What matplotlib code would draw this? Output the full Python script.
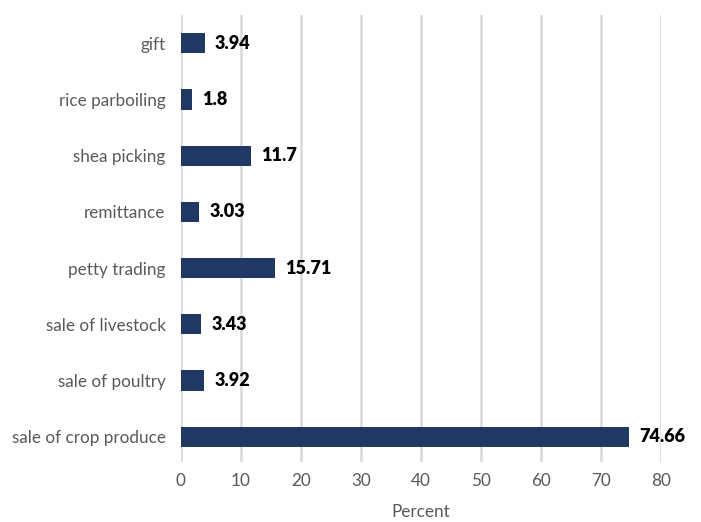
import matplotlib
matplotlib.use("Agg")
import matplotlib.pyplot as plt

categories = ["sale of crop produce", "sale of poultry", "sale of livestock", "petty trading",
              "remittance", "shea picking", "rice parboiling", "gift"]
values = [74.66, 3.92, 3.43, 15.71, 3.03, 11.7, 1.8, 3.94]
labels = ["74.66", "3.92", "3.43", "15.71", "3.03", "11.7", "1.8", "3.94"]
xticks = [0, 10, 20, 30, 40, 50, 60, 70, 80]

plt.rcParams['font.family'] = ['Lato', 'DejaVu Sans']

fig = plt.figure(figsize=(7.01, 5.22), dpi=100)
ax = fig.add_axes([0.258, 0.115, 0.685, 0.856])

y = list(range(len(categories)))
ax.barh(y, values, height=0.36, color="#1F3864", zorder=3)
for yi, v, lab in zip(y, values, labels):
    ax.text(v + 1.7, yi, lab, va="center", ha="left", fontsize=13,
            fontweight="heavy", color="black", clip_on=False)

ax.set_xlim(0, 80)
ax.set_ylim(-0.45, 7.5)
ax.set_xticks(xticks)
ax.set_yticks(y)
ax.set_yticklabels(categories)
ax.tick_params(axis="both", length=0, labelsize=12.3, colors="#595959")
ax.tick_params(axis="y", pad=11)
ax.tick_params(axis="x", pad=8)
ax.grid(axis="x", color="#D9D9D9", linewidth=1.8, zorder=0)
for s in ax.spines.values():
    s.set_visible(False)
ax.set_xlabel("Percent", fontsize=12.3, color="#595959", labelpad=11)

fig.savefig("out.png", dpi=100)
